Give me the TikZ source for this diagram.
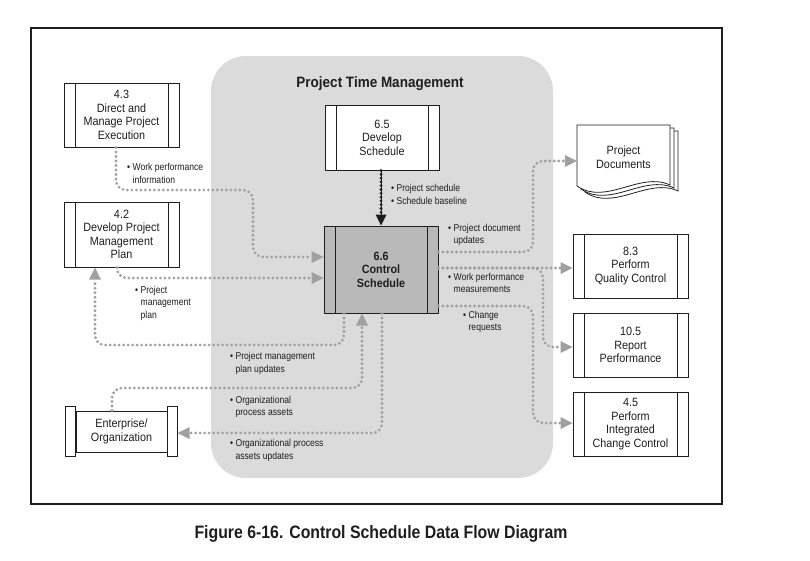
\documentclass[tikz,border=0pt]{standalone}
\usepackage{fontspec}
\setmainfont{Liberation Sans}
\newfontfamily\boxfont[FakeStretch=0.9]{Liberation Sans}
\newfontfamily\labfont[FakeStretch=0.86]{Liberation Sans}
\newfontfamily\capfont[FakeStretch=0.88]{Liberation Sans}
\usetikzlibrary{arrows.meta}
\definecolor{panelgray}{HTML}{DBDBDB}
\definecolor{ccgray}{HTML}{B9B9B9}
\definecolor{arrowgray}{HTML}{A0A0A0}
\definecolor{inkc}{HTML}{1E1E1E}
\newcommand\lbul{\textbullet\ }
\newcommand\lsp{\hphantom{\textbullet\ }}
\begin{document}
\begin{tikzpicture}[x=1pt,y=-1pt,
  proc/.style={draw=inkc, line width=1pt, fill=white, minimum width=115pt,
    minimum height=64pt, inner sep=0pt, align=center, text=inkc,
    font=\boxfont\fontsize{12}{13.5}\selectfont,
    path picture={\draw[inkc, line width=1pt]
      ([xshift=11pt]path picture bounding box.north west) -- ([xshift=11pt]path picture bounding box.south west)
      ([xshift=-11pt]path picture bounding box.north east) -- ([xshift=-11pt]path picture bounding box.south east);}},
  plaintext/.style={inner sep=0pt, align=center, text=inkc, font=\boxfont\fontsize{12}{13.5}\selectfont},
  lab/.style={anchor=west, align=left, inner sep=0pt, text=inkc, font=\labfont\fontsize{10}{12.5}\selectfont},
  flow/.style={draw=arrowgray, line width=3.1pt, dash pattern=on 0pt off 4.5pt, line cap=round,
    rounded corners=10pt, -{Triangle[length=12pt,width=12pt,line width=0pt]}},
  blackflow/.style={draw=inkc, line width=3.1pt, dash pattern=on 0pt off 3.8pt, line cap=round,
    -{Triangle[length=11pt,width=11pt,line width=0pt]}},
  thinblack/.style={draw=inkc, line width=0.8pt},
  docpage/.style={draw=inkc, line width=0.8pt, fill=white}
]
\useasboundingbox (0,0) rectangle (810,560);
\fill[white] (0,0) rectangle (810,560);
% outer frame
\draw[inkc, line width=1.2pt] (31,28) rectangle (722,504);
% panel
\fill[panelgray, rounded corners=35pt] (211,56) rectangle (553,478);
\node[inner sep=0pt, text=inkc, font=\boxfont\bfseries\fontsize{15}{17}\selectfont] (title) at (380,84) {Project Time Management};

% process boxes
\node[proc] (p43) at (121.5,115) {4.3\\Direct and\\Manage Project\\Execution};
\node[proc, minimum height=65pt] (p42) at (121.5,234.5) {4.2\\Develop Project\\Management\\Plan};
\node[proc, minimum width=114pt, minimum height=65pt] (p65) at (382,137.5) {6.5\\Develop\\Schedule};
\node[proc, fill=ccgray, minimum width=114pt, minimum height=87pt, font=\boxfont\bfseries\fontsize{12}{13.5}\selectfont] (p66) at (381,269.5) {6.6\\Control\\Schedule};
\node[proc] (p83) at (630.5,266) {8.3\\Perform\\Quality Control};
\node[proc] (p105) at (630.5,345) {10.5\\Report\\Performance};
\node[proc] (p45) at (630.5,424) {4.5\\Perform\\Integrated\\Change Control};

% enterprise / organization
\node[plaintext, draw=inkc, line width=1pt, fill=white, minimum width=91pt, minimum height=41pt] (ent) at (121.5,431.5) {Enterprise/\\Organization};
\draw[inkc, line width=1pt, fill=white] ([xshift=-10pt,yshift=4pt]ent.north west) rectangle ([yshift=-4pt]ent.south west);
\draw[inkc, line width=1pt, fill=white] ([yshift=4pt]ent.north east) rectangle ([xshift=10pt,yshift=-4pt]ent.south east);

% project documents
\foreach \d in {8,4,0}{
  \draw[docpage, shift={(\d,0.75*\d)}] (577,125) -- (670,125) -- (670,185)
     .. controls (640,171) and (606,206) .. (577,186) -- cycle;
}
\node[plaintext, minimum width=93pt, minimum height=62pt] (pdoc) at (623.5,157) {Project\\Documents};

% connectors
\draw[flow] ([xshift=-5.5pt]p43.south) |- (253,190) |- ([yshift=12.5pt]p66.west);
\draw[flow] ([xshift=-4.5pt]p42.south) |- ([yshift=-8.5pt]p66.west);
\draw[flow] ([xshift=-37pt]p66.south) |- (95,345) -- ([xshift=-26.5pt]p42.south);
\draw[flow] ([xshift=-9.5pt]ent.north) |- (362,388) -- ([xshift=-19pt]p66.south);
\draw[flow] ([xshift=1pt]p66.south) |- ([xshift=10pt,yshift=-1.5pt]ent.east);
\draw[thinblack] ([xshift=-1pt]p65.south) -- ([yshift=6pt]p66.north);
\draw[blackflow] ([xshift=-1pt]p65.south) -- (p66.north);
\draw[flow] ([yshift=17.5pt]p66.east) -| (533,161) -- ([yshift=-4pt]pdoc.west);
\draw[flow] ([yshift=1.5pt]p66.east) -- ([yshift=-2pt]p83.west);
\draw[flow] ([yshift=1.5pt]p66.east) -| (543,347) -- ([yshift=-2pt]p105.west);
\draw[flow] ([yshift=-36.5pt]p66.east) -| (533,423) -- ([yshift=1pt]p45.west);

% labels
\node[lab] (l1) at (127,173.5) {\lbul Work performance\\\lsp information};
\node[lab] (l2) at (135,303) {\lbul Project\\\lsp management\\\lsp plan};
\node[lab] (l3) at (230,363.5) {\lbul Project management\\\lsp plan updates};
\node[lab] (l4) at (230,407) {\lbul Organizational\\\lsp process assets};
\node[lab] (l5) at (230,450.5) {\lbul Organizational process\\\lsp assets updates};
\node[lab] (l6) at (391,194.5) {\lbul Project schedule\\\lbul Schedule baseline};
\node[lab] (l7) at (448,235) {\lbul Project document\\\lsp updates};
\node[lab] (l8) at (448,283) {\lbul Work performance\\\lsp measurements};
\node[lab] (l9) at (463,322) {\lbul Change\\\lsp requests};

% caption
\node[inner sep=0pt, text=inkc, font=\capfont\bfseries\fontsize{18}{20}\selectfont] (cap) at (381,534) {Figure 6-16. Control Schedule Data Flow Diagram};
\end{tikzpicture}
\end{document}
